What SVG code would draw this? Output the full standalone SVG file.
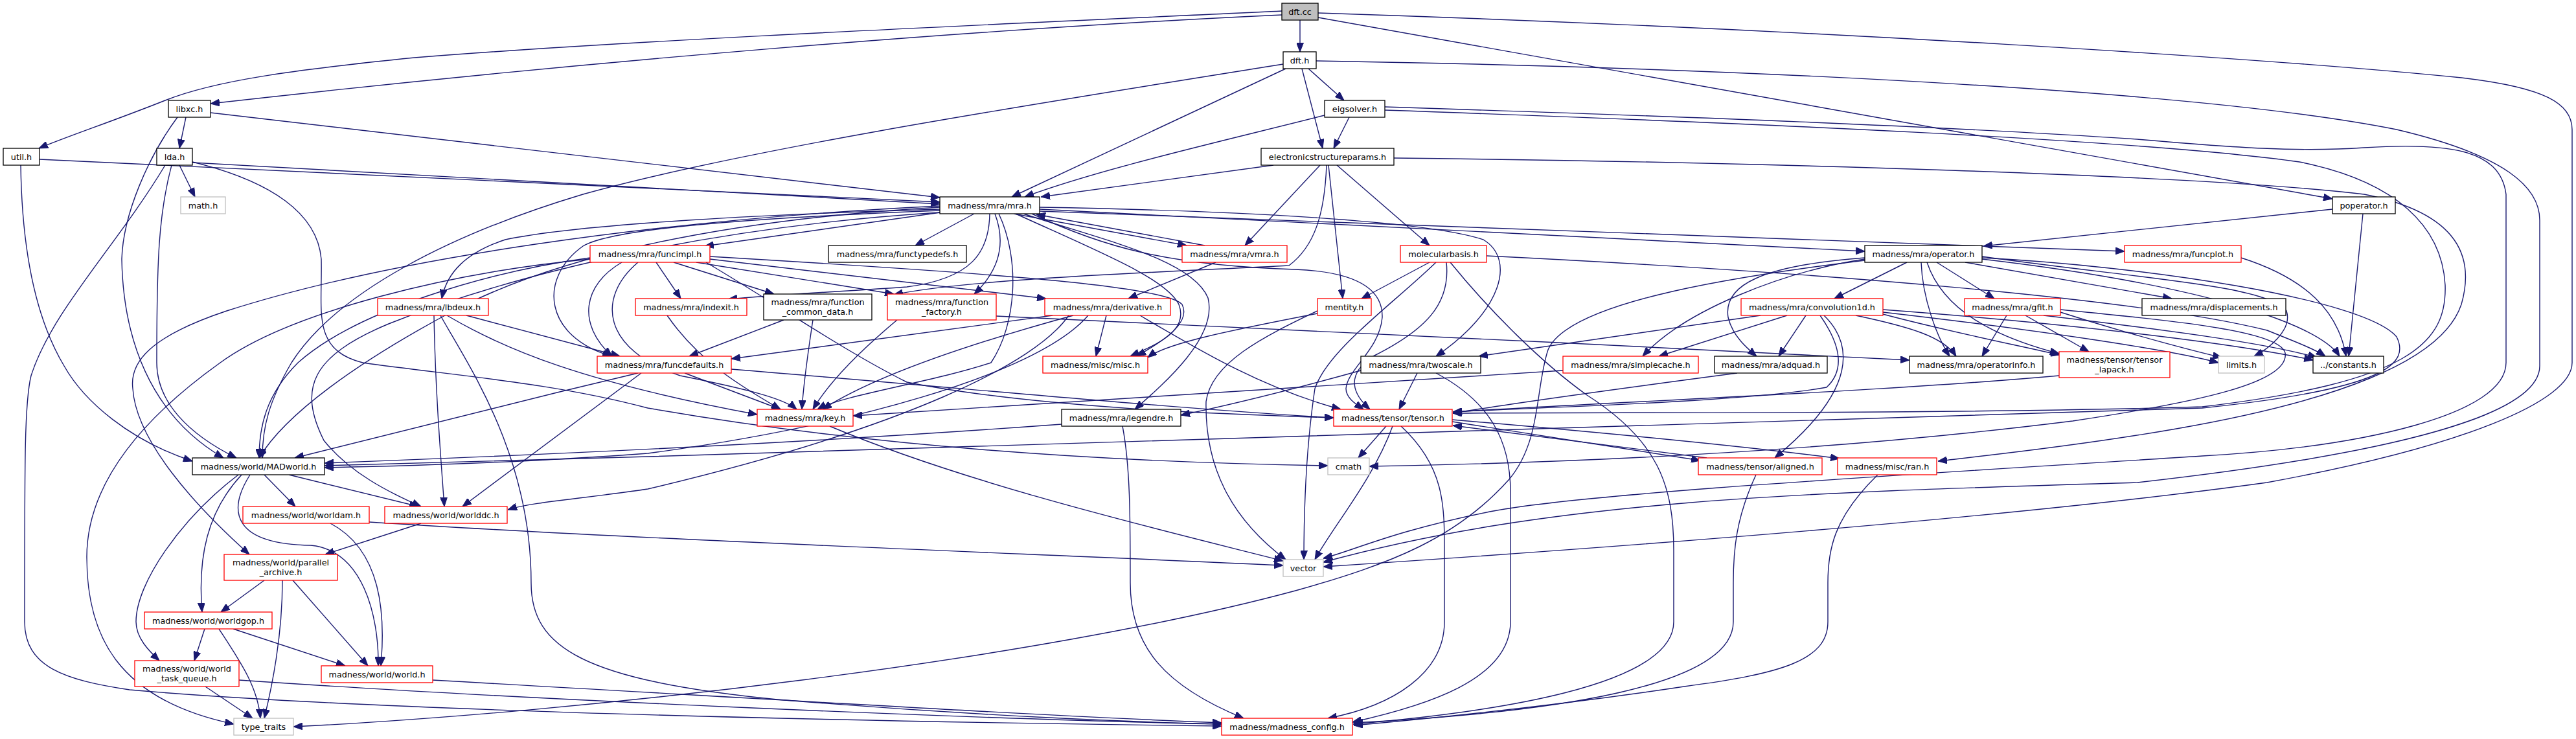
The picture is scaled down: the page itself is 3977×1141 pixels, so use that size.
<svg xmlns="http://www.w3.org/2000/svg" width="3977" height="1141" viewBox="0 0 3977 1141">
<style>
.node rect{fill:#fff;stroke-width:1.3}
.blk rect{stroke:#000}
.red rect{stroke:#ff0000}
.gry rect{stroke:#bfbfbf}
.cur rect{fill:#bfbfbf;stroke:#000}
.node text{font-family:"DejaVu Sans","Liberation Sans",sans-serif;font-size:12.8px;fill:#000;text-anchor:middle}
#edges path{fill:none;stroke:#191970;stroke-width:1.4;marker-end:url(#ah)}
</style>
<defs>
<marker id="ah" markerUnits="userSpaceOnUse" markerWidth="14" markerHeight="11" refX="14" refY="5.5" orient="auto" viewBox="0 0 14 11"><path d="M0,0L14,5.5L0,11z" fill="#191970" stroke="#191970" stroke-width="1"/></marker>
</defs>
<rect width="3977" height="1141" fill="#fff"/>
<g id="edges">
<path d="M2007,31 L2007,80"/>
<path d="M1979,23 C1500,45 900,95 325,160"/>
<path d="M1979,17 C1600,35 1000,60 640,89 C450,108 330,125 255,155 C180,185 100,212 60,229"/>
<path d="M2035,27 L3601,307"/>
<path d="M2035,20 C2800,45 3500,90 3800,120 C3930,135 3971,160 3971,200 L3971,560 C3971,620 3800,690 3500,745 C3100,800 2500,845 2043,875"/>
<path d="M1985,106 L1562,304"/>
<path d="M1981,99 C1600,160 1150,230 900,300 C700,360 520,450 450,560 C415,620 405,660 405,707"/>
<path d="M2020,106 L2075,155"/>
<path d="M2010,106 L2042,229"/>
<path d="M2032,94 C2700,105 3400,140 3700,200 C3870,240 3921,290 3921,340 L3921,565 C3921,640 3700,700 3300,745 C2800,760 2400,770 2043,868"/>
<path d="M287,181 L277,229"/>
<path d="M325,174 L1451,305"/>
<path d="M274,181 C230,240 190,330 188,400 C190,520 230,640 345,707"/>
<path d="M61,246 L1451,312"/>
<path d="M32,255 C34,400 60,500 99,565 C130,620 200,680 297,712"/>
<path d="M297,251 L1451,315"/>
<path d="M277,255 L301,304"/>
<path d="M265,255 C245,330 242,400 242,560 C242,620 290,670 365,707"/>
<path d="M255,255 C180,380 80,480 48,580 C38,620 38,700 38,960 C38,1030 100,1050 200,1065 C600,1100 1400,1115 1886,1121"/>
<path d="M297,250 C420,280 490,330 496,400 C498,480 480,540 560,560 C700,580 850,590 1000,630 C1400,700 1800,715 2050,719"/>
<path d="M2083,181 L2059,229"/>
<path d="M2045,178 C1900,215 1700,260 1582,304"/>
<path d="M2138,165 C2600,180 3000,195 3300,215 C3450,228 3550,235 3650,228 C3780,220 3860,230 3869,300 L3869,560 C3869,640 3650,690 3400,704 C3000,730 2450,760 2300,790 C2150,820 2090,850 2043,862"/>
<path d="M2138,170 C2700,190 3300,215 3550,250 C3700,280 3770,350 3775,440 C3778,530 3720,590 3400,628 C3000,640 2500,636 2243,638"/>
<path d="M1966,255 L1607,304"/>
<path d="M2038,255 L1922,379"/>
<path d="M2064,255 L2207,379"/>
<path d="M2051,255 L2073,461"/>
<path d="M2048,255 C2045,330 2030,380 1990,410 C1800,420 1500,430 1380,455"/>
<path d="M2152,244 C2700,250 3400,270 3650,300 C3800,330 3820,400 3800,470 C3770,560 3600,620 3360,662 C3200,690 3050,705 2992,712"/>
<path d="M1452,328 L1088,380"/>
<path d="M1504,330 L1413,379"/>
<path d="M1565,330 L1832,379"/>
<path d="M1860,379 L1600,331"/>
<path d="M1528,330 C1527,390 1500,430 1400,443 C1300,450 1200,455 1124,462"/>
<path d="M1536,330 C1555,380 1540,420 1504,454"/>
<path d="M1568,330 C1700,390 1800,430 1820,470 C1835,510 1790,530 1745,550"/>
<path d="M1580,330 C1700,370 1840,400 1865,460 C1880,520 1800,590 1752,632"/>
<path d="M1542,330 C1575,400 1570,500 1530,560 C1440,590 1300,610 1262,632"/>
<path d="M1451,323 C1200,330 900,345 780,370 C720,390 690,420 682,461"/>
<path d="M1451,325 C1200,335 950,350 900,380 C830,430 840,520 944,550"/>
<path d="M1451,320 C1100,340 850,400 700,480 C550,560 440,640 400,707"/>
<path d="M1451,318 C1000,340 600,400 350,480 C230,520 200,560 205,600 C210,680 300,780 385,856"/>
<path d="M1605,320 C1900,325 2200,340 2290,370 C2340,400 2320,480 2217,550"/>
<path d="M1605,323 L2879,388"/>
<path d="M1605,326 C2200,350 2900,370 3280,388"/>
<path d="M1451,328 C1100,350 800,420 600,500 C480,550 460,600 500,680 C540,730 600,760 650,782"/>
<path d="M1593,330 C1700,380 1800,410 2000,416 C2100,420 2135,450 2134,490 C2130,540 2080,570 2078,600 C2078,615 2095,625 2105,632"/>
<path d="M1013,405 L1051,461"/>
<path d="M1040,405 L1195,454"/>
<path d="M1075,405 L1380,454"/>
<path d="M1096,400 L1615,461"/>
<path d="M1096,396 C1500,420 1800,440 1825,470 C1840,500 1790,530 1755,550"/>
<path d="M960,405 C900,440 890,500 945,550"/>
<path d="M985,405 C920,460 930,540 1050,580 C1150,600 1210,615 1230,632"/>
<path d="M911,398 C750,420 550,480 460,560 C410,610 400,660 400,707"/>
<path d="M911,400 C700,420 450,480 340,560 C200,660 134,760 134,860 C134,980 180,1080 361,1118"/>
<path d="M1090,405 C1200,470 1300,540 1400,590 C1600,630 1900,640 2059,645"/>
<path d="M720,487 L957,550"/>
<path d="M690,487 C780,540 900,590 1169,640"/>
<path d="M670,487 C672,600 680,700 686,782"/>
<path d="M680,487 C720,560 820,700 820,900 C820,1000 900,1050 1200,1080 C1500,1105 1750,1115 1886,1118"/>
<path d="M1030,487 C1080,560 1150,600 1205,632"/>
<path d="M1210,494 L1064,550"/>
<path d="M1255,494 C1245,560 1240,600 1238,632"/>
<path d="M1385,494 C1330,540 1280,590 1255,632"/>
<path d="M1538,488 C1800,505 2500,530 2948,556"/>
<path d="M1625,487 L1129,554"/>
<path d="M1657,487 C1500,530 1350,580 1270,632"/>
<path d="M1708,487 L1692,550"/>
<path d="M1650,487 C1600,560 1400,660 1000,755 C900,770 820,775 784,787"/>
<path d="M1680,487 C1600,580 1300,660 1000,700 C800,715 600,720 501,722"/>
<path d="M1760,487 C1850,540 1950,600 2070,632"/>
<path d="M1877,405 L1742,461"/>
<path d="M2207,405 L2102,461"/>
<path d="M2217,405 C2150,470 2050,540 2030,600 C2015,700 2013,800 2013,864"/>
<path d="M2233,405 C2240,470 2200,510 2120,550 C2075,580 2090,610 2115,632"/>
<path d="M2239,405 C2300,480 2380,560 2450,610 C2560,680 2584,750 2584,850 L2584,960 C2584,1060 2300,1100 2089,1118"/>
<path d="M2295,395 C2800,420 3300,460 3500,510 C3550,530 3575,540 3590,550"/>
<path d="M2034,484 C1900,510 1800,530 1772,552"/>
<path d="M2034,480 C1950,520 1870,560 1862,620 C1860,720 1900,800 1985,864"/>
<path d="M2718,487 L2283,550"/>
<path d="M2759,487 L2561,550"/>
<path d="M2788,487 L2746,550"/>
<path d="M2810,487 C2840,530 2850,570 2820,598 C2700,620 2400,628 2243,636"/>
<path d="M2816,487 C2860,530 2870,600 2740,707"/>
<path d="M2865,487 C2950,505 3000,520 3020,550"/>
<path d="M2907,485 C3000,510 3100,530 3180,548"/>
<path d="M2907,478 C3200,500 3450,530 3571,556"/>
<path d="M2907,482 C3150,510 3350,540 3425,560"/>
<path d="M2944,405 L2832,461"/>
<path d="M2879,400 C2750,420 2600,480 2536,550"/>
<path d="M2879,398 C2720,410 2660,440 2668,490 C2675,520 2700,540 2712,550"/>
<path d="M2990,405 L3079,461"/>
<path d="M3034,405 L3353,461"/>
<path d="M2966,405 C2968,460 2990,520 3010,550"/>
<path d="M2975,405 C3000,480 3080,520 3179,546"/>
<path d="M3060,396 C3300,430 3500,440 3530,480 C3540,510 3500,540 3480,550"/>
<path d="M3060,400 C3400,440 3580,500 3612,550"/>
<path d="M2879,402 C2650,430 2420,470 2390,540 C2370,600 2380,680 2330,740 C2250,830 2150,870 2000,912 C1600,1020 900,1100 453,1122"/>
<path d="M3060,398 C3300,410 3650,460 3700,520 C3720,560 3690,600 3400,630 C3000,650 2000,680 1000,705 C800,710 600,716 501,719"/>
<path d="M3098,487 L3060,550"/>
<path d="M3127,487 L3225,543"/>
<path d="M3155,487 C3350,510 3500,530 3577,552"/>
<path d="M3181,478 C3350,495 3520,510 3528,545 C3535,590 3400,620 3200,650 C2800,700 2400,715 2114,720"/>
<path d="M3181,482 C3300,520 3400,545 3430,552"/>
<path d="M3601,323 L3062,380"/>
<path d="M3648,330 L3626,550"/>
<path d="M3460,398 C3560,430 3610,480 3622,550"/>
<path d="M2188,576 L2160,632"/>
<path d="M2101,572 C2000,600 1900,625 1823,641"/>
<path d="M2217,576 C2300,620 2332,680 2332,760 L2332,960 C2332,1050 2200,1090 2088,1115"/>
<path d="M2413,572 C2000,600 1600,625 1317,642"/>
<path d="M2682,576 C2500,600 2350,620 2243,638"/>
<path d="M3179,580 C2900,605 2500,620 2243,636"/>
<path d="M1057,576 L1205,632"/>
<path d="M985,576 C800,620 600,670 455,707"/>
<path d="M990,576 L714,782"/>
<path d="M1129,570 C1500,600 1800,630 2059,645"/>
<path d="M1281,658 C1500,750 1800,820 1981,866"/>
<path d="M1639,655 C1300,680 900,700 501,715"/>
<path d="M1733,658 C1745,720 1745,800 1745,900 C1745,1000 1800,1060 1920,1109"/>
<path d="M2140,658 L2097,707"/>
<path d="M2150,658 C2120,740 2060,810 2030,864"/>
<path d="M2163,658 C2230,720 2230,780 2230,850 L2230,960 C2230,1040 2150,1090 2050,1109"/>
<path d="M2242,651 L2625,711"/>
<path d="M2635,707 L2243,657"/>
<path d="M2242,648 C2500,670 2700,690 2840,708"/>
<path d="M2711,733 C2680,800 2676,850 2676,900 L2676,960 C2676,1060 2400,1100 2090,1116"/>
<path d="M2899,733 C2830,800 2822,850 2822,900 L2822,960 C2822,1020 2750,1040 2600,1060 C2400,1090 2200,1110 2090,1120"/>
<path d="M408,733 L456,782"/>
<path d="M446,733 L646,782"/>
<path d="M386,733 C350,790 360,840 480,842 C560,850 585,950 584,1028"/>
<path d="M373,733 C320,790 305,860 312,945"/>
<path d="M368,733 C280,800 210,900 210,960 C210,985 230,1005 246,1020"/>
<path d="M510,808 C590,850 595,950 588,1028"/>
<path d="M570,806 C1000,834 1600,855 1981,873"/>
<path d="M650,808 L502,856"/>
<path d="M408,896 L341,945"/>
<path d="M436,896 C436,980 420,1060 408,1109"/>
<path d="M452,896 L568,1028"/>
<path d="M316,971 L300,1020"/>
<path d="M338,971 C370,1020 398,1060 402,1109"/>
<path d="M360,971 L533,1028"/>
<path d="M317,1060 L390,1109"/>
<path d="M369,1050 C800,1080 1500,1110 1886,1118"/>
<path d="M668,1050 C1200,1080 1600,1105 1886,1116"/>
</g>
<g id="n_dftcc" class="node cur"><rect x="1979" y="5" width="56" height="26"/><text x="2007" y="22.5">dft.cc</text></g>
<g id="n_dfth" class="node blk"><rect x="1981" y="80" width="51" height="26"/><text x="2006.5" y="97.5">dft.h</text></g>
<g id="n_libxc" class="node blk"><rect x="260" y="155" width="65" height="26"/><text x="292.5" y="172.5">libxc.h</text></g>
<g id="n_eig" class="node blk"><rect x="2045" y="155" width="93" height="26"/><text x="2091.5" y="172.5">eigsolver.h</text></g>
<g id="n_util" class="node blk"><rect x="5" y="229" width="56" height="26"/><text x="33" y="246.5">util.h</text></g>
<g id="n_lda" class="node blk"><rect x="242" y="229" width="55" height="26"/><text x="269.5" y="246.5">lda.h</text></g>
<g id="n_esp" class="node blk"><rect x="1947" y="229" width="205" height="26"/><text x="2049.5" y="246.5">electronicstructureparams.h</text></g>
<g id="n_math" class="node gry"><rect x="279" y="304" width="69" height="26"/><text x="313.5" y="321.5">math.h</text></g>
<g id="n_mra" class="node blk"><rect x="1451" y="304" width="154" height="26"/><text x="1528" y="321.5">madness/mra/mra.h</text></g>
<g id="n_poper" class="node blk"><rect x="3601" y="304" width="97" height="26"/><text x="3649.5" y="321.5">poperator.h</text></g>
<g id="n_funcimpl" class="node red"><rect x="911" y="379" width="185" height="26"/><text x="1003.5" y="396.5">madness/mra/funcimpl.h</text></g>
<g id="n_functypedefs" class="node blk"><rect x="1279" y="379" width="213" height="26"/><text x="1385.5" y="396.5">madness/mra/functypedefs.h</text></g>
<g id="n_vmra" class="node red"><rect x="1825" y="379" width="162" height="26"/><text x="1906" y="396.5">madness/mra/vmra.h</text></g>
<g id="n_molbas" class="node red"><rect x="2162" y="379" width="133" height="26"/><text x="2228.5" y="396.5">molecularbasis.h</text></g>
<g id="n_operator" class="node blk"><rect x="2879" y="379" width="181" height="26"/><text x="2969.5" y="396.5">madness/mra/operator.h</text></g>
<g id="n_funcplot" class="node red"><rect x="3280" y="379" width="180" height="26"/><text x="3370" y="396.5">madness/mra/funcplot.h</text></g>
<g id="n_lbdeux" class="node red"><rect x="583" y="461" width="171" height="26"/><text x="668.5" y="478.5">madness/mra/lbdeux.h</text></g>
<g id="n_indexit" class="node red"><rect x="981" y="461" width="172" height="26"/><text x="1067" y="478.5">madness/mra/indexit.h</text></g>
<g id="n_fcd" class="node blk"><rect x="1179" y="454" width="167" height="40"/><text x="1262.5" y="471">madness/mra/function</text><text x="1262.5" y="486">_common_data.h</text></g>
<g id="n_ffac" class="node red"><rect x="1370" y="454" width="168" height="40"/><text x="1454" y="471">madness/mra/function</text><text x="1454" y="486">_factory.h</text></g>
<g id="n_deriv" class="node red"><rect x="1613" y="461" width="194" height="26"/><text x="1710" y="478.5">madness/mra/derivative.h</text></g>
<g id="n_mentity" class="node red"><rect x="2034" y="461" width="83" height="26"/><text x="2075.5" y="478.5">mentity.h</text></g>
<g id="n_conv1d" class="node red"><rect x="2688" y="461" width="219" height="26"/><text x="2797.5" y="478.5">madness/mra/convolution1d.h</text></g>
<g id="n_gfit" class="node red"><rect x="3033" y="461" width="148" height="26"/><text x="3107" y="478.5">madness/mra/gfit.h</text></g>
<g id="n_displ" class="node blk"><rect x="3307" y="461" width="222" height="26"/><text x="3418" y="478.5">madness/mra/displacements.h</text></g>
<g id="n_funcdef" class="node red"><rect x="922" y="550" width="207" height="26"/><text x="1025.5" y="567.5">madness/mra/funcdefaults.h</text></g>
<g id="n_misc" class="node red"><rect x="1610" y="550" width="162" height="26"/><text x="1691" y="567.5">madness/misc/misc.h</text></g>
<g id="n_twoscale" class="node blk"><rect x="2101" y="550" width="185" height="26"/><text x="2193.5" y="567.5">madness/mra/twoscale.h</text></g>
<g id="n_simplecache" class="node red"><rect x="2413" y="550" width="209" height="26"/><text x="2517.5" y="567.5">madness/mra/simplecache.h</text></g>
<g id="n_adquad" class="node blk"><rect x="2647" y="550" width="174" height="26"/><text x="2734" y="567.5">madness/mra/adquad.h</text></g>
<g id="n_opinfo" class="node blk"><rect x="2948" y="550" width="206" height="26"/><text x="3051" y="567.5">madness/mra/operatorinfo.h</text></g>
<g id="n_tlapack" class="node red"><rect x="3179" y="543" width="171" height="40"/><text x="3264.5" y="560">madness/tensor/tensor</text><text x="3264.5" y="575">_lapack.h</text></g>
<g id="n_limits" class="node gry"><rect x="3425" y="550" width="71" height="26"/><text x="3460.5" y="567.5">limits.h</text></g>
<g id="n_constants" class="node blk"><rect x="3571" y="550" width="109" height="26"/><text x="3625.5" y="567.5">../constants.h</text></g>
<g id="n_key" class="node red"><rect x="1169" y="632" width="148" height="26"/><text x="1243" y="649.5">madness/mra/key.h</text></g>
<g id="n_legendre" class="node blk"><rect x="1639" y="632" width="184" height="26"/><text x="1731" y="649.5">madness/mra/legendre.h</text></g>
<g id="n_tensor" class="node red"><rect x="2059" y="632" width="183" height="26"/><text x="2150.5" y="649.5">madness/tensor/tensor.h</text></g>
<g id="n_madworld" class="node blk"><rect x="297" y="707" width="204" height="26"/><text x="399" y="724.5">madness/world/MADworld.h</text></g>
<g id="n_cmath" class="node gry"><rect x="2050" y="707" width="64" height="26"/><text x="2082" y="724.5">cmath</text></g>
<g id="n_aligned" class="node red"><rect x="2622" y="707" width="191" height="26"/><text x="2717.5" y="724.5">madness/tensor/aligned.h</text></g>
<g id="n_ran" class="node red"><rect x="2837" y="707" width="153" height="26"/><text x="2913.5" y="724.5">madness/misc/ran.h</text></g>
<g id="n_worldam" class="node red"><rect x="375" y="782" width="195" height="26"/><text x="472.5" y="799.5">madness/world/worldam.h</text></g>
<g id="n_worlddc" class="node red"><rect x="594" y="782" width="189" height="26"/><text x="688.5" y="799.5">madness/world/worlddc.h</text></g>
<g id="n_vector" class="node gry"><rect x="1981" y="864" width="62" height="26"/><text x="2012" y="881.5">vector</text></g>
<g id="n_parch" class="node red"><rect x="346" y="856" width="175" height="40"/><text x="433.5" y="873">madness/world/parallel</text><text x="433.5" y="888">_archive.h</text></g>
<g id="n_worldgop" class="node red"><rect x="223" y="945" width="197" height="26"/><text x="321.5" y="962.5">madness/world/worldgop.h</text></g>
<g id="n_wtq" class="node red"><rect x="208" y="1020" width="161" height="40"/><text x="288.5" y="1037">madness/world/world</text><text x="288.5" y="1052">_task_queue.h</text></g>
<g id="n_world" class="node red"><rect x="496" y="1028" width="172" height="26"/><text x="582" y="1045.5">madness/world/world.h</text></g>
<g id="n_typetraits" class="node gry"><rect x="361" y="1109" width="92" height="26"/><text x="407" y="1126.5">type_traits</text></g>
<g id="n_config" class="node red"><rect x="1886" y="1109" width="202" height="26"/><text x="1987" y="1126.5">madness/madness_config.h</text></g>
</svg>
